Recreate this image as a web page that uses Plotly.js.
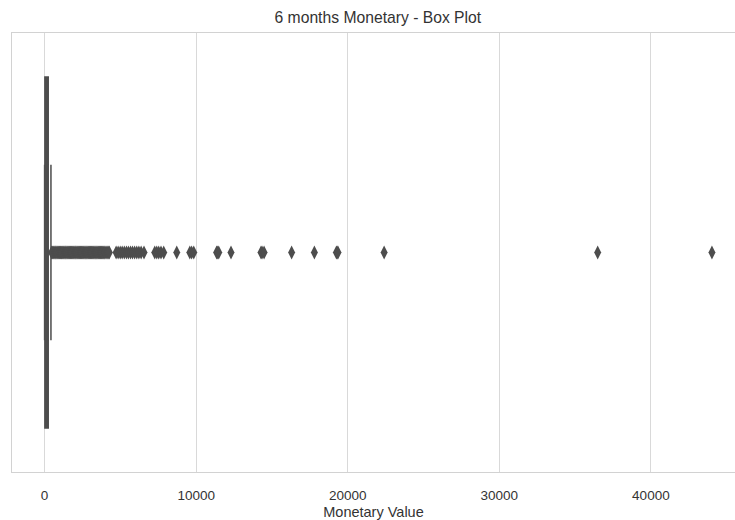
<!DOCTYPE html>
<html>
<head>
<meta charset="utf-8">
<script src="https://cdn.plot.ly/plotly-3.0.1.min.js"></script>
<style>
  html, body { margin: 0; padding: 0; background: #ffffff; overflow: hidden; }
  #chart { width: 735px; height: 520px; }
</style>
</head>
<body>
<div id="chart"></div>
<script>
// Box statistics (Monetary Value, 6 months)
const boxQ1 = [20];
const boxMedian = [100];
const boxQ3 = [240];
const boxLowerFence = [0];
const boxUpperFence = [420];

// Outliers (dense run near the whisker, then sparser ones)
const outlierValues = [
  460, 510, 570, 630, 690, 750, 810, 870, 930, 990, 1050, 1110, 1170, 1230,
  1290, 1350, 1410, 1470, 1530, 1590, 1650, 1710, 1770, 1830, 1890, 1950,
  2010, 2070, 2130, 2190, 2250, 2310, 2370, 2430, 2490, 2550, 2610, 2670,
  2730, 2790, 2850, 2910, 2970, 3030, 3090, 3150, 3210, 3270, 3330, 3390,
  3450, 3510, 3570, 3630, 3690, 3750, 3810, 3870, 3930, 3990, 4060, 4130,
  4200, 4270,
  4720, 4850, 4990, 5120, 5260, 5400, 5530, 5670, 5800, 5940, 6080, 6220,
  6370, 6560,
  7270, 7400, 7530, 7680, 7860,
  8720,
  9580, 9700, 9840,
  11350, 11420, 11490,
  12300,
  14280, 14350, 14480,
  16300,
  17800,
  19250, 19300, 19360,
  22400,
  36490,
  44030
];

const titleText = "6 months Monetary - Box Plot";
const xTitleText = "Monetary Value";
const xTickVals = [0, 10000, 20000, 30000, 40000];
const xTickText = ["0", "10000", "20000", "30000", "40000"];

const dark = "#4d4d4d";
const textColor = "#333333";
const fontFam = "Liberation Sans, Arial, sans-serif";

const traces = [
  {
    type: "box",
    orientation: "h",
    y: [0],
    q1: boxQ1,
    median: boxMedian,
    q3: boxQ3,
    lowerfence: boxLowerFence,
    upperfence: boxUpperFence,
    width: 0.8,
    whiskerwidth: 0.5,
    fillcolor: dark,
    line: { color: dark, width: 1.5 },
    boxpoints: false,
    hoverinfo: "skip",
    showlegend: false
  },
  {
    type: "scatter",
    mode: "markers",
    x: outlierValues,
    y: outlierValues.map(() => 0),
    marker: { symbol: "diamond-tall", size: 10, color: dark, line: { width: 0 } },
    hoverinfo: "x",
    showlegend: false
  }
];

const layout = {
  width: 735,
  height: 520,
  paper_bgcolor: "#ffffff",
  plot_bgcolor: "#ffffff",
  margin: { l: 12, r: 0, t: 33, b: 48, pad: 0 },
  font: { family: fontFam, color: textColor, size: 12 },
  title: {
    text: titleText,
    font: { family: fontFam, size: 15.7, color: textColor },
    xref: "paper",
    x: 0.506,
    xanchor: "center",
    yref: "container",
    y: 0.967,
    yanchor: "middle"
  },
  xaxis: {
    range: [-2150, 45550],
    tickvals: xTickVals,
    ticktext: xTickText,
    showgrid: true,
    gridcolor: "#d9d9d9",
    gridwidth: 1,
    zeroline: false,
    showline: true,
    linecolor: "#d2d2d2",
    linewidth: 1.3,
    mirror: true,
    ticks: "",
    ticklabelstandoff: 10,
    tickfont: { family: fontFam, size: 13.5, color: textColor },
    title: { text: xTitleText, font: { family: fontFam, size: 14.5, color: textColor }, standoff: 5 }
  },
  yaxis: {
    range: [0.5, -0.5],
    showticklabels: false,
    showgrid: false,
    zeroline: false,
    showline: true,
    linecolor: "#d2d2d2",
    linewidth: 1.3,
    ticks: ""
  }
};

Plotly.newPlot("chart", traces, layout, { displayModeBar: false, staticPlot: true });
</script>
</body>
</html>
